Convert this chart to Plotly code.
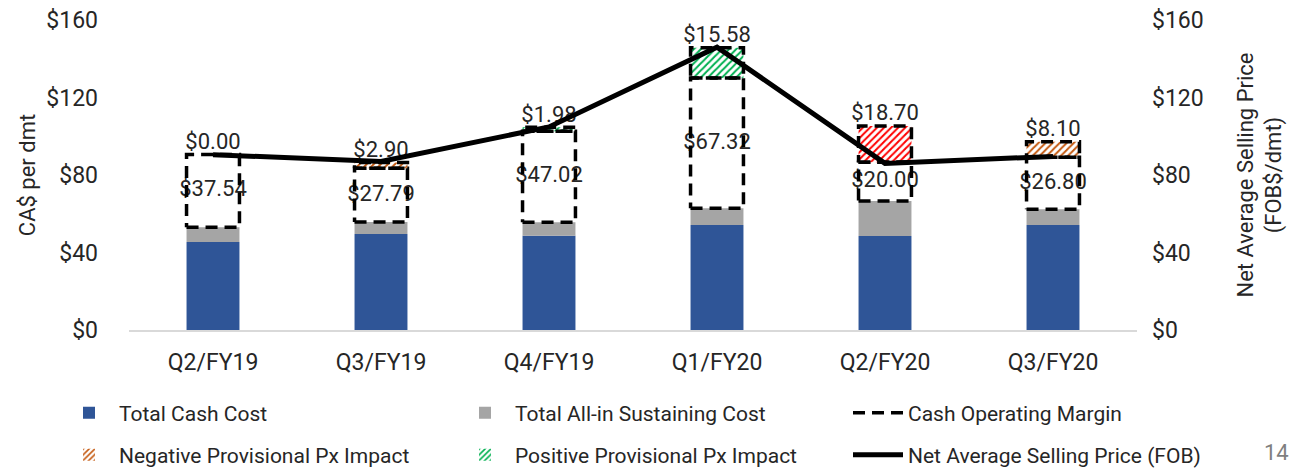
import plotly.graph_objects as go

categories = ["Q2/FY19", "Q3/FY19", "Q4/FY19", "Q1/FY20", "Q2/FY20", "Q3/FY20"]
cash_cost = [45.4, 49.5, 48.7, 54.2, 48.5, 54.2]
aisc = [53.0, 55.7, 55.6, 62.8, 66.6, 62.3]
margin = [37.54, 27.79, 47.02, 67.32, 20.00, 26.80]
prov_impact = [0.00, -2.90, 1.98, 15.58, -18.70, -8.10]
neg_colors = ["#C55A11", "#C55A11", "#C55A11", "#C55A11", "#FF0000", "#C55A11"]
nasp = [90.5, 87.0, 104.8, 146.0, 86.0, 89.6]
y_ticks = [0, 40, 80, 120, 160]

FONT = "Roboto"
TXT = "#262626"
BW = 0.315
# the page body has an 8px margin; the figure is sized so that it fills the window
PAGE_OFF = 8
W, H = 1305 - PAGE_OFF, 468 - PAGE_OFF
PL, PR, PT, PB = 129 - PAGE_OFF, 1137 - PAGE_OFF, 20 - PAGE_OFF, 330 - PAGE_OFF
xs = list(range(len(categories)))

sust = [a - c for a, c in zip(aisc, cash_cost)]
top_margin = [a + m for a, m in zip(aisc, margin)]
neg_vals = [abs(p) if p < 0 else None for p in prov_impact]
pos_vals = [p if p > 0 else None for p in prov_impact]
prov_top = [t + abs(p) for t, p in zip(top_margin, prov_impact)]

# dashed outlines
ox, oy = [], []
for i in xs:
    boxes = [(aisc[i], top_margin[i])]
    if prov_impact[i] != 0:
        boxes.append((top_margin[i], prov_top[i]))
    for lo, hi in boxes:
        x0, x1 = i - BW / 2, i + BW / 2
        ox += [x0, x1, x1, x0, x0, None]
        oy += [lo, lo, hi, hi, lo, None]

fig = go.Figure()
fig.add_trace(go.Bar(x=xs, y=cash_cost, base=0, width=BW, name="Total Cash Cost",
                     marker=dict(color="#2F5597", line=dict(width=0)), legend="legend",
                     hoverinfo="skip"))
fig.add_trace(go.Bar(x=xs, y=sust, base=cash_cost, width=BW, name="Total All-in Sustaining Cost",
                     marker=dict(color="#A5A5A5", line=dict(width=0)), legend="legend2",
                     hoverinfo="skip"))
fig.add_trace(go.Bar(x=xs, y=neg_vals, base=top_margin, width=BW, name="Negative Provisional Px Impact",
                     marker=dict(color="white", line=dict(width=0),
                                 pattern=dict(shape="/", fgcolor=neg_colors, bgcolor="white",
                                              fgopacity=1, size=5, solidity=0.4)),
                     legend="legend4", hoverinfo="skip"))
fig.add_trace(go.Bar(x=xs, y=pos_vals, base=top_margin, width=BW, name="Positive Provisional Px Impact",
                     marker=dict(color="white", line=dict(width=0),
                                 pattern=dict(shape="/", fgcolor="#00B050", bgcolor="white",
                                              fgopacity=1, size=5, solidity=0.4)),
                     legend="legend5", hoverinfo="skip"))

# labels (drawn before outlines, so dashed lines cross over them)
fig.add_trace(go.Scatter(x=xs, y=[a + m / 2 for a, m in zip(aisc, margin)], mode="text",
                         text=[f"${m:.2f}" for m in margin], textposition="middle center",
                         textfont=dict(family=FONT, size=22, color=TXT), showlegend=False,
                         hoverinfo="skip"))
fig.add_trace(go.Scatter(x=xs, y=prov_top, mode="text",
                         text=[f"${abs(p):.2f}" for p in prov_impact], textposition="top center",
                         textfont=dict(family=FONT, size=22, color=TXT), showlegend=False,
                         hoverinfo="skip"))
fig.add_trace(go.Scatter(x=ox, y=oy, mode="lines", name="Cash Operating Margin",
                         line=dict(color="black", width=3.5, dash="12px,7px"),
                         legend="legend3", hoverinfo="skip"))
fig.add_trace(go.Scatter(x=xs, y=nasp, mode="lines", name="Net Average Selling Price (FOB)",
                         line=dict(color="black", width=5), yaxis="y2",
                         legend="legend6", hoverinfo="skip"))

tick_text = [f"${v}" for v in y_ticks]


def legend_at(left_abs, center_abs):
    return dict(orientation="h", xref="container", x=(left_abs - PAGE_OFF) / W, xanchor="left",
                yref="container", y=(H - (center_abs - PAGE_OFF)) / H, yanchor="middle",
                itemwidth=50, font=dict(family=FONT, size=21, color=TXT),
                bgcolor="rgba(0,0,0,0)")


fig.update_layout(
    width=W, height=H,
    margin=dict(l=PL, r=W - PR, t=PT, b=H - PB, autoexpand=False),
    paper_bgcolor="white", plot_bgcolor="white",
    barmode="overlay",
    font=dict(family=FONT, size=22, color=TXT),
    showlegend=True,
    xaxis=dict(range=[-0.5, 5.5], tickmode="array", tickvals=xs, ticktext=categories,
               showgrid=False, zeroline=False, showline=True, linecolor="#D9D9D9", linewidth=1.5,
               ticks="", tickfont=dict(size=23), ticklabelstandoff=11, automargin=False),
    yaxis=dict(range=[0, 160], tickmode="array", tickvals=y_ticks, ticktext=tick_text,
               showgrid=False, zeroline=False, showline=False, ticks="",
               tickfont=dict(size=23), ticklabelstandoff=30, automargin=False,
               ticklabeloverflow="allow",
               title=dict(text="CA$ per dmt", font=dict(size=22), standoff=4)),
    yaxis2=dict(range=[0, 160], tickmode="array", tickvals=y_ticks, ticktext=tick_text,
                overlaying="y", side="right", showgrid=False, zeroline=False, showline=False,
                ticks="", tickfont=dict(size=23), ticklabelstandoff=14, automargin=False,
                ticklabeloverflow="allow",
                title=dict(text="Net Average Selling Price<br>(FOB$/dmt)", font=dict(size=22),
                           standoff=34)),
    legend=legend_at(59, 413),
    legend2=legend_at(455, 413),
    legend3=legend_at(848, 413),
    legend4=legend_at(59, 455),
    legend5=legend_at(455, 455),
    legend6=legend_at(848, 455),
    annotations=[dict(text="14", xref="paper", yref="paper",
                      x=((1262 - PAGE_OFF) - PL) / (PR - PL),
                      y=(PB - (452 - PAGE_OFF)) / (PB - PT),
                      xanchor="left", yanchor="middle", showarrow=False,
                      font=dict(family=FONT, size=22, color="#7F7F7F"))],
)

fig.write_html("out.html")
